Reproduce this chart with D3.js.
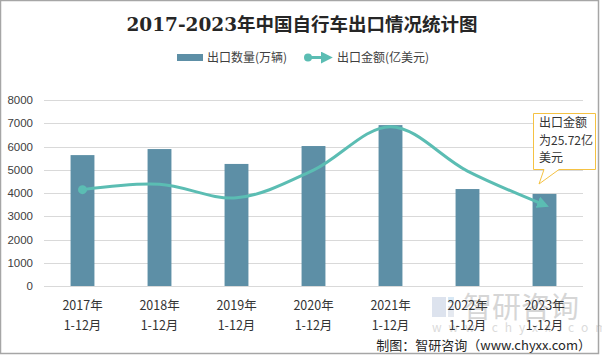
<!DOCTYPE html>
<html><head><meta charset="utf-8">
<script src="https://cdn.jsdelivr.net/npm/d3@7/dist/d3.min.js"></script>
<style>body{margin:0;background:#fff}svg{display:block}text{font-family:"Noto Sans CJK SC","Microsoft YaHei",sans-serif}</style>
</head><body><svg id="c" width="602" height="355"></svg>
<script>
const years = ["2017年","2018年","2019年","2020年","2021年","2022年","2023年"];
const subLabel = "1-12月";
const quantity = [5630, 5890, 5250, 6020, 6920, 4170, 3960]; // 出口数量(万辆)
const amount = [30.6, 32.3, 28.0, 36.8, 50.6, 36.5, 25.72]; // 出口金额(亿美元)
const yTicks = [0,1000,2000,3000,4000,5000,6000,7000,8000];
const title = "2017-2023年中国自行车出口情况统计图";
const legendLabels = ["出口数量(万辆)","出口金额(亿美元)"];
const noteLines = ["出口金额","为25.72亿","美元"];
const source = "制图：智研咨询（www.chyxx.com）";

const svg = d3.select("#c");
const barColor = "#5d8fa6", lineColor = "#5bbdb3";

// border
svg.append("rect").attr("x",0.5).attr("y",0.5).attr("width",598).attr("height",353)
  .attr("fill","#fff").attr("stroke","#a6a6a6").attr("stroke-width",1.5);

const x = d3.scaleBand().domain(years).range([44,583]).paddingInner(0.69).paddingOuter(0.345);
const y = d3.scaleLinear().domain([0,8000]).range([286,100]);
const y2 = d3.scaleLinear().domain([0,59.06]).range([286,100]);

// grid
svg.append("g").selectAll("line").data(yTicks).join("line")
  .attr("x1",44).attr("x2",583).attr("y1",d=>Math.round(y(d))+0.5).attr("y2",d=>Math.round(y(d))+0.5)
  .attr("stroke","#d9d9d9").attr("stroke-width",1);

// y axis labels
const yAxis = d3.axisLeft(y).tickValues(yTicks).tickSize(0).tickPadding(0).tickFormat(d3.format("d"));
const ya = svg.append("g").attr("transform","translate(33,0)").call(yAxis);
ya.select(".domain").remove();
ya.selectAll("text").attr("fill","#404040").style("font-size","11.5px").style("font-family","Liberation Sans, Arial, sans-serif");

// watermark
const wm = svg.append("g").attr("opacity",0.35);
wm.append("rect").attr("x",432).attr("y",297).attr("width",14).attr("height",20).attr("fill","#9fb2cf");
wm.append("rect").attr("x",448).attr("y",297).attr("width",6).attr("height",6).attr("fill","#8fbfe5");
wm.append("rect").attr("x",448).attr("y",306).attr("width",6).attr("height",11).attr("fill","#b7c3d6");
wm.append("text").attr("x",463).attr("y",318).text("智研咨询").attr("fill","#8c8c8c")
  .style("font-size","29px");
wm.append("text").attr("x",432).attr("y",332).text("w w w . c h y x x . c o m").attr("fill","#9a9a9a")
  .style("font-size","12px").style("letter-spacing","2.1px");

// bars
svg.append("g").selectAll("rect").data(quantity).join("rect")
  .attr("x",(d,i)=>x(years[i])).attr("width",x.bandwidth())
  .attr("y",d=>y(d)).attr("height",d=>y(0)-y(d)).attr("fill",barColor);

// x labels
const xa = svg.append("g").attr("transform","translate(0,286)")
  .call(d3.axisBottom(x).tickSize(0).tickPadding(0));
xa.select(".domain").remove();
xa.selectAll("text").remove();
xa.selectAll(".tick").each(function(d){
  const g = d3.select(this);
  g.append("text").attr("y",24).attr("text-anchor","middle").attr("fill","#333").style("font-size","12.5px").text(d);
  g.append("text").attr("y",44).attr("text-anchor","middle").attr("fill","#333").style("font-size","12.5px").text(subLabel);
});

// line
const defs = svg.append("defs");
defs.append("marker").attr("id","arr").attr("viewBox","0 0 10 10").attr("refX",6).attr("refY",5)
  .attr("markerWidth",4).attr("markerHeight",4).attr("orient","auto")
  .append("path").attr("d","M0,0 L10,5 L0,10 z").attr("fill",lineColor);
const cx = i => x(years[i]) + x.bandwidth()/2;
const line = d3.line().x((d,i)=>cx(i)).y(d=>y2(d)).curve(d3.curveCatmullRom.alpha(0.5));
svg.append("path").datum(amount).attr("d",line).attr("fill","none").attr("stroke",lineColor)
  .attr("stroke-width",3).attr("marker-end","url(#arr)");
svg.append("circle").attr("cx",cx(0)).attr("cy",y2(amount[0])).attr("r",4.5).attr("fill",lineColor);

// annotation
svg.append("path").attr("d","M533.5,113.5 H595.5 V169.5 H559 L539,184 L544,169.5 H533.5 Z")
  .attr("fill","#fff").attr("stroke","#f5c243").attr("stroke-width",1);
svg.append("g").selectAll("text").data(noteLines).join("text")
  .attr("x",539).attr("y",(d,i)=>127+i*17.5).text(d=>d).attr("fill","#333").style("font-size","12px");

// title
svg.append("text").attr("x",302).attr("y",31).attr("text-anchor","middle").text(title)
  .attr("fill","#262626").style("font-size","18.5px").style("font-weight","bold")
  .style("font-family","'DejaVu Serif','Noto Sans CJK SC',serif");

// legend
svg.append("rect").attr("x",177).attr("y",54).attr("width",26).attr("height",7).attr("fill",barColor);
svg.append("text").attr("x",207).attr("y",62).text(legendLabels[0]).attr("fill","#404040").style("font-size","12px");
svg.append("line").attr("x1",306).attr("x2",328).attr("y1",57.5).attr("y2",57.5).attr("stroke",lineColor)
  .attr("stroke-width",3).attr("marker-end","url(#arr)");
svg.append("circle").attr("cx",308).attr("cy",57.5).attr("r",4).attr("fill",lineColor);
svg.append("text").attr("x",337).attr("y",62).text(legendLabels[1]).attr("fill","#404040").style("font-size","12px");

// source
svg.append("text").attr("x",591).attr("y",350).attr("text-anchor","end").text(source)
  .attr("fill","#262626").style("font-size","13px");
</script></body></html>
